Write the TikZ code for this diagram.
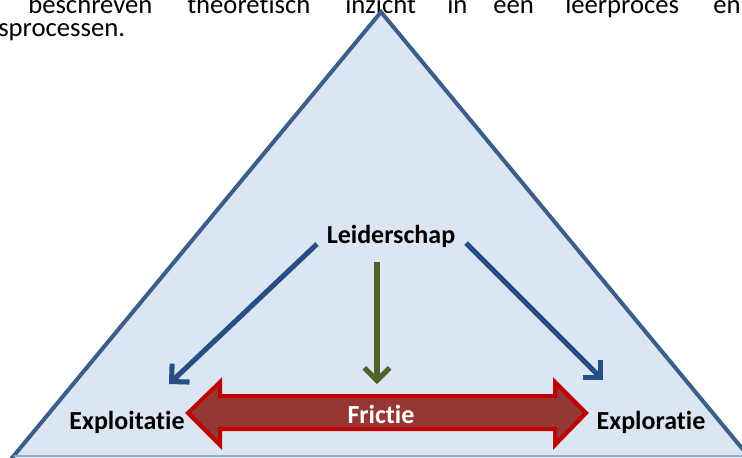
\documentclass[tikz,border=0pt]{standalone}
\usepackage{fontspec}
\setmainfont{Carlito}[Ligatures=NoCommon]
\usetikzlibrary{arrows.meta}
\definecolor{trifill}{HTML}{DCE6F2}
\definecolor{triline}{HTML}{3A5F8B}
\definecolor{bottomline}{HTML}{95AECB}
\definecolor{arrblue}{HTML}{264F85}
\definecolor{arrgreen}{HTML}{4F6228}
\definecolor{fricfill}{HTML}{953735}
\definecolor{fricline}{HTML}{C00000}
\tikzset{
  bodytext/.style={font=\fontsize{20pt}{22pt}\selectfont, inner sep=0pt, anchor=base west},
  label/.style={font=\fontsize{19.5pt}{22pt}\selectfont\bfseries, inner sep=0pt, anchor=base},
  conn/.style={line width=3.8pt, -{Straight Barb[length=9.5pt,width=19pt,line width=3.8pt]}},
}
\begin{document}
\begin{tikzpicture}[x=0.75pt,y=-0.75pt]
\useasboundingbox (0,0) rectangle (742,457);
\clip (0,0) rectangle (742,457);
% top text
\node[bodytext] (w1) at (28,13) {beschreven};
\node[bodytext] (w2) at (187,13) {theoretisch};
\node[bodytext] (w3) at (345,13) {inzicht};
\node[bodytext] (w4) at (447,13) {in};
\node[bodytext] (w5) at (493,13) {een};
\node[bodytext] (w6) at (565,13) {leerproces};
\node[bodytext] (w7) at (713,13) {en};
\node[bodytext] (w8) at (-2,36) {sprocessen.};
% triangle
\draw[fill=trifill, draw=triline, line width=3pt, line join=miter] (381,12) -- (-12,487) -- (774,487) -- cycle;
\draw[bottomline, line width=1pt] (14,456) -- (742,456);
% labels
\node[label] (lead) at (391,243) {Leiderschap};
\node[label] (expl) at (127,429) {Exploitatie};
\node[label] (explr) at (651,429) {Exploratie};
\coordinate (ls) at (317,244);
\coordinate (lt) at (169,384);
\coordinate (rs) at (466,243);
\coordinate (rt) at (603,380);
\coordinate (gs) at (377,262);
\coordinate (gt) at (377,384);
\draw[conn, arrblue] (ls) -- (lt);
\draw[conn, arrblue] (rs) -- (rt);
\draw[conn, arrgreen] (gs) -- (gt);
% friction arrow
\draw[fill=fricfill, draw=fricline, line width=3pt, line join=miter]
  (188,413) -- (220,382) -- (220,396) -- (555,396) -- (555,382) -- (586,413)
  -- (555,445) -- (555,429) -- (220,429) -- (220,445) -- cycle;
\node[label, text=white] (fric) at (381,423) {Frictie};
\end{tikzpicture}
\end{document}
